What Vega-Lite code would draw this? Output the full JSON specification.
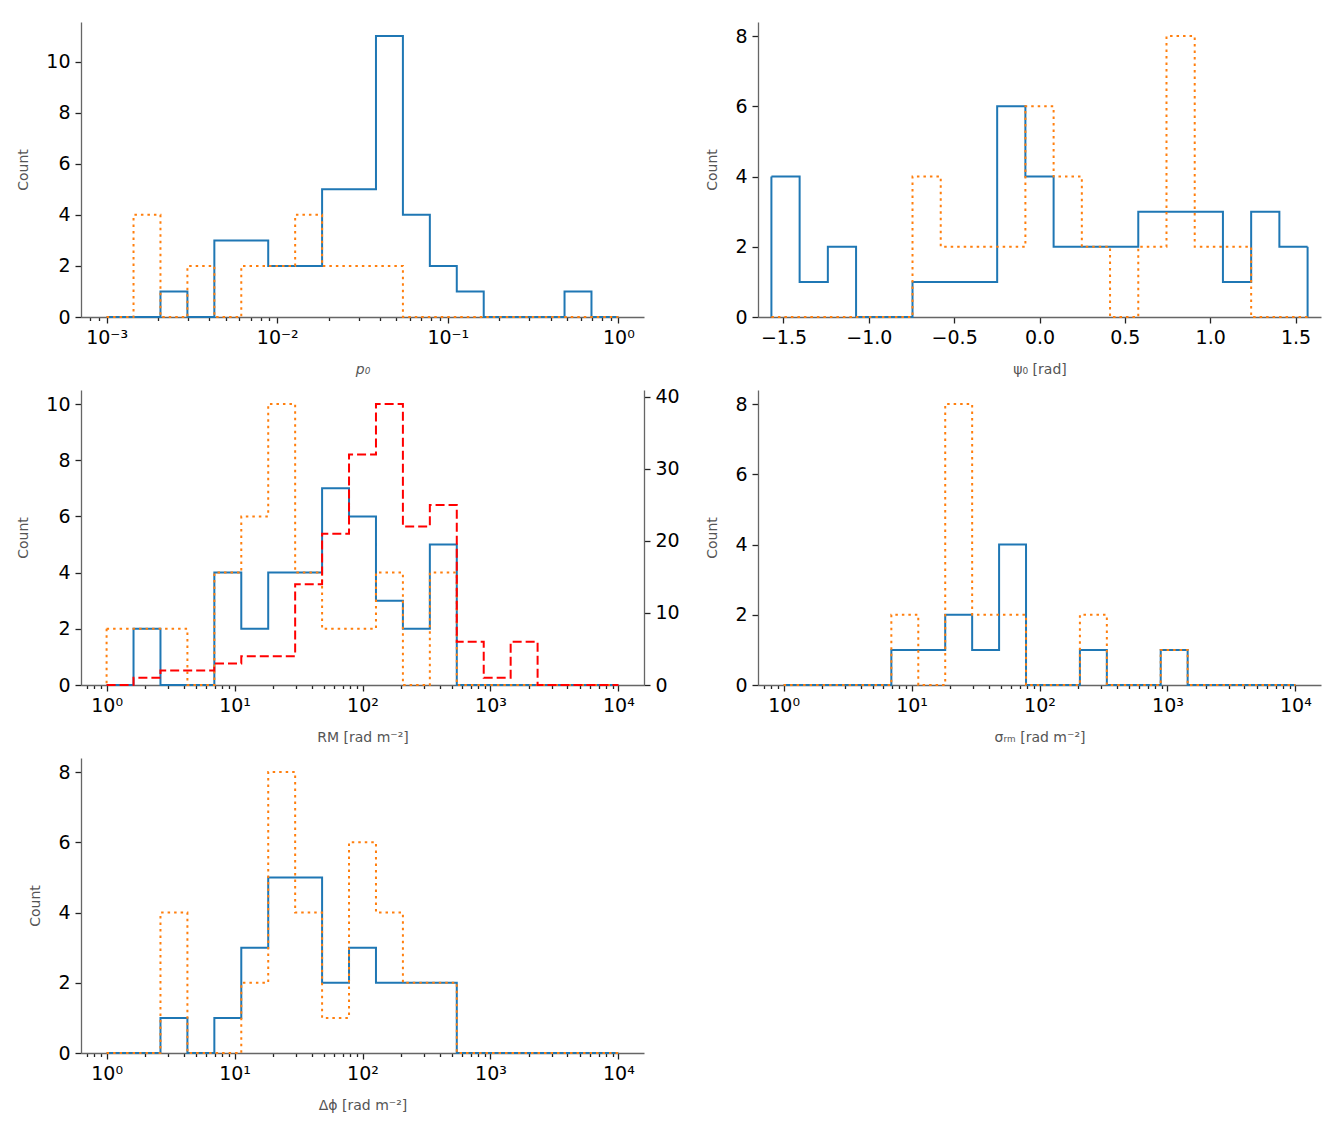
{
  "$schema": "https://vega.github.io/schema/vega-lite/v6.json",
  "padding": {"left": 16, "top": 22, "right": 5, "bottom": 5},
  "columns": 2,
  "spacing": {"row": 73, "column": 114},
  "bounds": "flush",
  "config": {
    "view": {"stroke": null},
    "font": "DejaVu Sans",
    "axis": {
      "grid": false,
      "domainColor": "#666666",
      "domainWidth": 1.3,
      "tickColor": "#222222",
      "tickWidth": 1.3,
      "tickSize": 6,
      "labelFont": "DejaVu Sans",
      "labelFontSize": 19,
      "labelColor": "#000000",
      "labelPadding": 5,
      "labelFlush": false,
      "labelOverlap": false,
      "titleFont": "DejaVu Sans",
      "titleFontSize": 14,
      "titleFontWeight": "normal",
      "titleColor": "#555555"
    },
    "axisX": {"titlePadding": 15},
    "axisY": {"titlePadding": 15}
  },
  "datasets": {
    "hist": [
      {"p":"p0","s":"b","i":0,"lo":0.001,"hi":0.0014384,"n":0},
      {"p":"p0","s":"b","i":1,"lo":0.0014384,"hi":0.0020691,"n":0},
      {"p":"p0","s":"b","i":2,"lo":0.0020691,"hi":0.0029764,"n":1},
      {"p":"p0","s":"b","i":3,"lo":0.0029764,"hi":0.0042814,"n":0},
      {"p":"p0","s":"b","i":4,"lo":0.0042814,"hi":0.0061585,"n":3},
      {"p":"p0","s":"b","i":5,"lo":0.0061585,"hi":0.0088587,"n":3},
      {"p":"p0","s":"b","i":6,"lo":0.0088587,"hi":0.012743,"n":2},
      {"p":"p0","s":"b","i":7,"lo":0.012743,"hi":0.01833,"n":2},
      {"p":"p0","s":"b","i":8,"lo":0.01833,"hi":0.026367,"n":5},
      {"p":"p0","s":"b","i":9,"lo":0.026367,"hi":0.037927,"n":5},
      {"p":"p0","s":"b","i":10,"lo":0.037927,"hi":0.054556,"n":11},
      {"p":"p0","s":"b","i":11,"lo":0.054556,"hi":0.078476,"n":4},
      {"p":"p0","s":"b","i":12,"lo":0.078476,"hi":0.11288,"n":2},
      {"p":"p0","s":"b","i":13,"lo":0.11288,"hi":0.16238,"n":1},
      {"p":"p0","s":"b","i":14,"lo":0.16238,"hi":0.23357,"n":0},
      {"p":"p0","s":"b","i":15,"lo":0.23357,"hi":0.33598,"n":0},
      {"p":"p0","s":"b","i":16,"lo":0.33598,"hi":0.48329,"n":0},
      {"p":"p0","s":"b","i":17,"lo":0.48329,"hi":0.69519,"n":1},
      {"p":"p0","s":"b","i":18,"lo":0.69519,"hi":1,"n":0},

      {"p":"p0","s":"o","i":0,"lo":0.001,"hi":0.0014384,"n":0},
      {"p":"p0","s":"o","i":1,"lo":0.0014384,"hi":0.0020691,"n":4},
      {"p":"p0","s":"o","i":2,"lo":0.0020691,"hi":0.0029764,"n":0},
      {"p":"p0","s":"o","i":3,"lo":0.0029764,"hi":0.0042814,"n":2},
      {"p":"p0","s":"o","i":4,"lo":0.0042814,"hi":0.0061585,"n":0},
      {"p":"p0","s":"o","i":5,"lo":0.0061585,"hi":0.0088587,"n":2},
      {"p":"p0","s":"o","i":6,"lo":0.0088587,"hi":0.012743,"n":2},
      {"p":"p0","s":"o","i":7,"lo":0.012743,"hi":0.01833,"n":4},
      {"p":"p0","s":"o","i":8,"lo":0.01833,"hi":0.026367,"n":2},
      {"p":"p0","s":"o","i":9,"lo":0.026367,"hi":0.037927,"n":2},
      {"p":"p0","s":"o","i":10,"lo":0.037927,"hi":0.054556,"n":2},
      {"p":"p0","s":"o","i":11,"lo":0.054556,"hi":0.078476,"n":0},
      {"p":"p0","s":"o","i":12,"lo":0.078476,"hi":0.11288,"n":0},
      {"p":"p0","s":"o","i":13,"lo":0.11288,"hi":0.16238,"n":0},
      {"p":"p0","s":"o","i":14,"lo":0.16238,"hi":0.23357,"n":0},
      {"p":"p0","s":"o","i":15,"lo":0.23357,"hi":0.33598,"n":0},
      {"p":"p0","s":"o","i":16,"lo":0.33598,"hi":0.48329,"n":0},
      {"p":"p0","s":"o","i":17,"lo":0.48329,"hi":0.69519,"n":0},
      {"p":"p0","s":"o","i":18,"lo":0.69519,"hi":1,"n":0},

      {"p":"psi","s":"b","i":0,"lo":-1.5708,"hi":-1.40545,"n":4},
      {"p":"psi","s":"b","i":1,"lo":-1.40545,"hi":-1.2401,"n":1},
      {"p":"psi","s":"b","i":2,"lo":-1.2401,"hi":-1.07475,"n":2},
      {"p":"psi","s":"b","i":3,"lo":-1.07475,"hi":-0.90941,"n":0},
      {"p":"psi","s":"b","i":4,"lo":-0.90941,"hi":-0.74406,"n":0},
      {"p":"psi","s":"b","i":5,"lo":-0.74406,"hi":-0.57871,"n":1},
      {"p":"psi","s":"b","i":6,"lo":-0.57871,"hi":-0.41337,"n":1},
      {"p":"psi","s":"b","i":7,"lo":-0.41337,"hi":-0.24802,"n":1},
      {"p":"psi","s":"b","i":8,"lo":-0.24802,"hi":-0.08267,"n":6},
      {"p":"psi","s":"b","i":9,"lo":-0.08267,"hi":0.08267,"n":4},
      {"p":"psi","s":"b","i":10,"lo":0.08267,"hi":0.24802,"n":2},
      {"p":"psi","s":"b","i":11,"lo":0.24802,"hi":0.41337,"n":2},
      {"p":"psi","s":"b","i":12,"lo":0.41337,"hi":0.57871,"n":2},
      {"p":"psi","s":"b","i":13,"lo":0.57871,"hi":0.74406,"n":3},
      {"p":"psi","s":"b","i":14,"lo":0.74406,"hi":0.90941,"n":3},
      {"p":"psi","s":"b","i":15,"lo":0.90941,"hi":1.07475,"n":3},
      {"p":"psi","s":"b","i":16,"lo":1.07475,"hi":1.2401,"n":1},
      {"p":"psi","s":"b","i":17,"lo":1.2401,"hi":1.40545,"n":3},
      {"p":"psi","s":"b","i":18,"lo":1.40545,"hi":1.5708,"n":2},

      {"p":"psi","s":"o","i":0,"lo":-1.5708,"hi":-1.40545,"n":0},
      {"p":"psi","s":"o","i":1,"lo":-1.40545,"hi":-1.2401,"n":0},
      {"p":"psi","s":"o","i":2,"lo":-1.2401,"hi":-1.07475,"n":0},
      {"p":"psi","s":"o","i":3,"lo":-1.07475,"hi":-0.90941,"n":0},
      {"p":"psi","s":"o","i":4,"lo":-0.90941,"hi":-0.74406,"n":0},
      {"p":"psi","s":"o","i":5,"lo":-0.74406,"hi":-0.57871,"n":4},
      {"p":"psi","s":"o","i":6,"lo":-0.57871,"hi":-0.41337,"n":2},
      {"p":"psi","s":"o","i":7,"lo":-0.41337,"hi":-0.24802,"n":2},
      {"p":"psi","s":"o","i":8,"lo":-0.24802,"hi":-0.08267,"n":2},
      {"p":"psi","s":"o","i":9,"lo":-0.08267,"hi":0.08267,"n":6},
      {"p":"psi","s":"o","i":10,"lo":0.08267,"hi":0.24802,"n":4},
      {"p":"psi","s":"o","i":11,"lo":0.24802,"hi":0.41337,"n":2},
      {"p":"psi","s":"o","i":12,"lo":0.41337,"hi":0.57871,"n":0},
      {"p":"psi","s":"o","i":13,"lo":0.57871,"hi":0.74406,"n":2},
      {"p":"psi","s":"o","i":14,"lo":0.74406,"hi":0.90941,"n":8},
      {"p":"psi","s":"o","i":15,"lo":0.90941,"hi":1.07475,"n":2},
      {"p":"psi","s":"o","i":16,"lo":1.07475,"hi":1.2401,"n":2},
      {"p":"psi","s":"o","i":17,"lo":1.2401,"hi":1.40545,"n":0},
      {"p":"psi","s":"o","i":18,"lo":1.40545,"hi":1.5708,"n":0},

      {"p":"rm","s":"b","i":0,"lo":1,"hi":1.6238,"n":0},
      {"p":"rm","s":"b","i":1,"lo":1.6238,"hi":2.6367,"n":2},
      {"p":"rm","s":"b","i":2,"lo":2.6367,"hi":4.2813,"n":0},
      {"p":"rm","s":"b","i":3,"lo":4.2813,"hi":6.952,"n":0},
      {"p":"rm","s":"b","i":4,"lo":6.952,"hi":11.288,"n":4},
      {"p":"rm","s":"b","i":5,"lo":11.288,"hi":18.33,"n":2},
      {"p":"rm","s":"b","i":6,"lo":18.33,"hi":29.764,"n":4},
      {"p":"rm","s":"b","i":7,"lo":29.764,"hi":48.329,"n":4},
      {"p":"rm","s":"b","i":8,"lo":48.329,"hi":78.476,"n":7},
      {"p":"rm","s":"b","i":9,"lo":78.476,"hi":127.43,"n":6},
      {"p":"rm","s":"b","i":10,"lo":127.43,"hi":206.91,"n":3},
      {"p":"rm","s":"b","i":11,"lo":206.91,"hi":335.98,"n":2},
      {"p":"rm","s":"b","i":12,"lo":335.98,"hi":545.56,"n":5},
      {"p":"rm","s":"b","i":13,"lo":545.56,"hi":885.87,"n":0},
      {"p":"rm","s":"b","i":14,"lo":885.87,"hi":1438.4,"n":0},
      {"p":"rm","s":"b","i":15,"lo":1438.4,"hi":2335.7,"n":0},
      {"p":"rm","s":"b","i":16,"lo":2335.7,"hi":3792.7,"n":0},
      {"p":"rm","s":"b","i":17,"lo":3792.7,"hi":6158.5,"n":0},
      {"p":"rm","s":"b","i":18,"lo":6158.5,"hi":10000,"n":0},

      {"p":"rm","s":"o","i":0,"lo":1,"hi":1.6238,"n":2},
      {"p":"rm","s":"o","i":1,"lo":1.6238,"hi":2.6367,"n":2},
      {"p":"rm","s":"o","i":2,"lo":2.6367,"hi":4.2813,"n":2},
      {"p":"rm","s":"o","i":3,"lo":4.2813,"hi":6.952,"n":0},
      {"p":"rm","s":"o","i":4,"lo":6.952,"hi":11.288,"n":4},
      {"p":"rm","s":"o","i":5,"lo":11.288,"hi":18.33,"n":6},
      {"p":"rm","s":"o","i":6,"lo":18.33,"hi":29.764,"n":10},
      {"p":"rm","s":"o","i":7,"lo":29.764,"hi":48.329,"n":4},
      {"p":"rm","s":"o","i":8,"lo":48.329,"hi":78.476,"n":2},
      {"p":"rm","s":"o","i":9,"lo":78.476,"hi":127.43,"n":2},
      {"p":"rm","s":"o","i":10,"lo":127.43,"hi":206.91,"n":4},
      {"p":"rm","s":"o","i":11,"lo":206.91,"hi":335.98,"n":0},
      {"p":"rm","s":"o","i":12,"lo":335.98,"hi":545.56,"n":4},
      {"p":"rm","s":"o","i":13,"lo":545.56,"hi":885.87,"n":0},
      {"p":"rm","s":"o","i":14,"lo":885.87,"hi":1438.4,"n":0},
      {"p":"rm","s":"o","i":15,"lo":1438.4,"hi":2335.7,"n":0},
      {"p":"rm","s":"o","i":16,"lo":2335.7,"hi":3792.7,"n":0},
      {"p":"rm","s":"o","i":17,"lo":3792.7,"hi":6158.5,"n":0},
      {"p":"rm","s":"o","i":18,"lo":6158.5,"hi":10000,"n":0},

      {"p":"rm","s":"r","i":0,"lo":1,"hi":1.6238,"n":0},
      {"p":"rm","s":"r","i":1,"lo":1.6238,"hi":2.6367,"n":1},
      {"p":"rm","s":"r","i":2,"lo":2.6367,"hi":4.2813,"n":2},
      {"p":"rm","s":"r","i":3,"lo":4.2813,"hi":6.952,"n":2},
      {"p":"rm","s":"r","i":4,"lo":6.952,"hi":11.288,"n":3},
      {"p":"rm","s":"r","i":5,"lo":11.288,"hi":18.33,"n":4},
      {"p":"rm","s":"r","i":6,"lo":18.33,"hi":29.764,"n":4},
      {"p":"rm","s":"r","i":7,"lo":29.764,"hi":48.329,"n":14},
      {"p":"rm","s":"r","i":8,"lo":48.329,"hi":78.476,"n":21},
      {"p":"rm","s":"r","i":9,"lo":78.476,"hi":127.43,"n":32},
      {"p":"rm","s":"r","i":10,"lo":127.43,"hi":206.91,"n":39},
      {"p":"rm","s":"r","i":11,"lo":206.91,"hi":335.98,"n":22},
      {"p":"rm","s":"r","i":12,"lo":335.98,"hi":545.56,"n":25},
      {"p":"rm","s":"r","i":13,"lo":545.56,"hi":885.87,"n":6},
      {"p":"rm","s":"r","i":14,"lo":885.87,"hi":1438.4,"n":1},
      {"p":"rm","s":"r","i":15,"lo":1438.4,"hi":2335.7,"n":6},
      {"p":"rm","s":"r","i":16,"lo":2335.7,"hi":3792.7,"n":0},
      {"p":"rm","s":"r","i":17,"lo":3792.7,"hi":6158.5,"n":0},
      {"p":"rm","s":"r","i":18,"lo":6158.5,"hi":10000,"n":0},

      {"p":"sig","s":"b","i":0,"lo":1,"hi":1.6238,"n":0},
      {"p":"sig","s":"b","i":1,"lo":1.6238,"hi":2.6367,"n":0},
      {"p":"sig","s":"b","i":2,"lo":2.6367,"hi":4.2813,"n":0},
      {"p":"sig","s":"b","i":3,"lo":4.2813,"hi":6.952,"n":0},
      {"p":"sig","s":"b","i":4,"lo":6.952,"hi":11.288,"n":1},
      {"p":"sig","s":"b","i":5,"lo":11.288,"hi":18.33,"n":1},
      {"p":"sig","s":"b","i":6,"lo":18.33,"hi":29.764,"n":2},
      {"p":"sig","s":"b","i":7,"lo":29.764,"hi":48.329,"n":1},
      {"p":"sig","s":"b","i":8,"lo":48.329,"hi":78.476,"n":4},
      {"p":"sig","s":"b","i":9,"lo":78.476,"hi":127.43,"n":0},
      {"p":"sig","s":"b","i":10,"lo":127.43,"hi":206.91,"n":0},
      {"p":"sig","s":"b","i":11,"lo":206.91,"hi":335.98,"n":1},
      {"p":"sig","s":"b","i":12,"lo":335.98,"hi":545.56,"n":0},
      {"p":"sig","s":"b","i":13,"lo":545.56,"hi":885.87,"n":0},
      {"p":"sig","s":"b","i":14,"lo":885.87,"hi":1438.4,"n":1},
      {"p":"sig","s":"b","i":15,"lo":1438.4,"hi":2335.7,"n":0},
      {"p":"sig","s":"b","i":16,"lo":2335.7,"hi":3792.7,"n":0},
      {"p":"sig","s":"b","i":17,"lo":3792.7,"hi":6158.5,"n":0},
      {"p":"sig","s":"b","i":18,"lo":6158.5,"hi":10000,"n":0},

      {"p":"sig","s":"o","i":0,"lo":1,"hi":1.6238,"n":0},
      {"p":"sig","s":"o","i":1,"lo":1.6238,"hi":2.6367,"n":0},
      {"p":"sig","s":"o","i":2,"lo":2.6367,"hi":4.2813,"n":0},
      {"p":"sig","s":"o","i":3,"lo":4.2813,"hi":6.952,"n":0},
      {"p":"sig","s":"o","i":4,"lo":6.952,"hi":11.288,"n":2},
      {"p":"sig","s":"o","i":5,"lo":11.288,"hi":18.33,"n":0},
      {"p":"sig","s":"o","i":6,"lo":18.33,"hi":29.764,"n":8},
      {"p":"sig","s":"o","i":7,"lo":29.764,"hi":48.329,"n":2},
      {"p":"sig","s":"o","i":8,"lo":48.329,"hi":78.476,"n":2},
      {"p":"sig","s":"o","i":9,"lo":78.476,"hi":127.43,"n":0},
      {"p":"sig","s":"o","i":10,"lo":127.43,"hi":206.91,"n":0},
      {"p":"sig","s":"o","i":11,"lo":206.91,"hi":335.98,"n":2},
      {"p":"sig","s":"o","i":12,"lo":335.98,"hi":545.56,"n":0},
      {"p":"sig","s":"o","i":13,"lo":545.56,"hi":885.87,"n":0},
      {"p":"sig","s":"o","i":14,"lo":885.87,"hi":1438.4,"n":1},
      {"p":"sig","s":"o","i":15,"lo":1438.4,"hi":2335.7,"n":0},
      {"p":"sig","s":"o","i":16,"lo":2335.7,"hi":3792.7,"n":0},
      {"p":"sig","s":"o","i":17,"lo":3792.7,"hi":6158.5,"n":0},
      {"p":"sig","s":"o","i":18,"lo":6158.5,"hi":10000,"n":0},

      {"p":"dphi","s":"b","i":0,"lo":1,"hi":1.6238,"n":0},
      {"p":"dphi","s":"b","i":1,"lo":1.6238,"hi":2.6367,"n":0},
      {"p":"dphi","s":"b","i":2,"lo":2.6367,"hi":4.2813,"n":1},
      {"p":"dphi","s":"b","i":3,"lo":4.2813,"hi":6.952,"n":0},
      {"p":"dphi","s":"b","i":4,"lo":6.952,"hi":11.288,"n":1},
      {"p":"dphi","s":"b","i":5,"lo":11.288,"hi":18.33,"n":3},
      {"p":"dphi","s":"b","i":6,"lo":18.33,"hi":29.764,"n":5},
      {"p":"dphi","s":"b","i":7,"lo":29.764,"hi":48.329,"n":5},
      {"p":"dphi","s":"b","i":8,"lo":48.329,"hi":78.476,"n":2},
      {"p":"dphi","s":"b","i":9,"lo":78.476,"hi":127.43,"n":3},
      {"p":"dphi","s":"b","i":10,"lo":127.43,"hi":206.91,"n":2},
      {"p":"dphi","s":"b","i":11,"lo":206.91,"hi":335.98,"n":2},
      {"p":"dphi","s":"b","i":12,"lo":335.98,"hi":545.56,"n":2},
      {"p":"dphi","s":"b","i":13,"lo":545.56,"hi":885.87,"n":0},
      {"p":"dphi","s":"b","i":14,"lo":885.87,"hi":1438.4,"n":0},
      {"p":"dphi","s":"b","i":15,"lo":1438.4,"hi":2335.7,"n":0},
      {"p":"dphi","s":"b","i":16,"lo":2335.7,"hi":3792.7,"n":0},
      {"p":"dphi","s":"b","i":17,"lo":3792.7,"hi":6158.5,"n":0},
      {"p":"dphi","s":"b","i":18,"lo":6158.5,"hi":10000,"n":0},

      {"p":"dphi","s":"o","i":0,"lo":1,"hi":1.6238,"n":0},
      {"p":"dphi","s":"o","i":1,"lo":1.6238,"hi":2.6367,"n":0},
      {"p":"dphi","s":"o","i":2,"lo":2.6367,"hi":4.2813,"n":4},
      {"p":"dphi","s":"o","i":3,"lo":4.2813,"hi":6.952,"n":0},
      {"p":"dphi","s":"o","i":4,"lo":6.952,"hi":11.288,"n":0},
      {"p":"dphi","s":"o","i":5,"lo":11.288,"hi":18.33,"n":2},
      {"p":"dphi","s":"o","i":6,"lo":18.33,"hi":29.764,"n":8},
      {"p":"dphi","s":"o","i":7,"lo":29.764,"hi":48.329,"n":4},
      {"p":"dphi","s":"o","i":8,"lo":48.329,"hi":78.476,"n":1},
      {"p":"dphi","s":"o","i":9,"lo":78.476,"hi":127.43,"n":6},
      {"p":"dphi","s":"o","i":10,"lo":127.43,"hi":206.91,"n":4},
      {"p":"dphi","s":"o","i":11,"lo":206.91,"hi":335.98,"n":2},
      {"p":"dphi","s":"o","i":12,"lo":335.98,"hi":545.56,"n":2},
      {"p":"dphi","s":"o","i":13,"lo":545.56,"hi":885.87,"n":0},
      {"p":"dphi","s":"o","i":14,"lo":885.87,"hi":1438.4,"n":0},
      {"p":"dphi","s":"o","i":15,"lo":1438.4,"hi":2335.7,"n":0},
      {"p":"dphi","s":"o","i":16,"lo":2335.7,"hi":3792.7,"n":0},
      {"p":"dphi","s":"o","i":17,"lo":3792.7,"hi":6158.5,"n":0},
      {"p":"dphi","s":"o","i":18,"lo":6158.5,"hi":10000,"n":0}
    ]
  },
  "concat": [
    {
      "width": 563, "height": 295,
      "data": {"name": "hist"},
      "transform": [{"filter": "datum.p == 'p0'"}, {"fold": ["lo", "hi"], "as": ["end", "x"]}],
      "encoding": {
        "x": {"field": "x", "type": "quantitative",
          "scale": {"type": "log", "domain": [0.00070795, 1.41254], "nice": false},
          "axis": {"title": "p₀", "titleFontStyle": "italic",
            "values": [0.0008, 0.0009, 0.001, 0.002, 0.003, 0.004, 0.005, 0.006, 0.007, 0.008, 0.009, 0.01, 0.02, 0.03, 0.04, 0.05, 0.06, 0.07, 0.08, 0.09, 0.1, 0.2, 0.3, 0.4, 0.5, 0.6, 0.7, 0.8, 0.9, 1],
            "labelExpr": "abs(log(datum.value)/LN10 - round(log(datum.value)/LN10)) < 0.001 ? '10' + ['⁻³','⁻²','⁻¹','⁰','¹','²','³','⁴'][round(log(datum.value)/LN10) + 3] : ''",
            "tickSize": {"condition": {"test": "abs(log(datum.value)/LN10 - round(log(datum.value)/LN10)) < 0.001", "value": 6}, "value": 3.5}}},
        "y": {"field": "n", "type": "quantitative",
          "scale": {"domain": [0, 11.55], "nice": false},
          "axis": {"title": "Count", "values": [0, 2, 4, 6, 8, 10], "format": "d"}}
      },
      "layer": [
        {"transform": [{"filter": "datum.s == 'b'"}],
          "mark": {"type": "line", "color": "#1f77b4", "strokeWidth": 2},
          "encoding": {"order": [{"field": "i", "type": "quantitative"}, {"field": "end", "type": "ordinal", "sort": "descending"}]}},
        {"transform": [{"filter": "datum.s == 'b' && ((datum.i == 0 && datum.end == 'lo') || (datum.i == 18 && datum.end == 'hi'))"}],
          "mark": {"type": "rule", "color": "#1f77b4", "strokeWidth": 2},
          "encoding": {"y2": {"datum": 0}}},
        {"transform": [{"filter": "datum.s == 'o'"}],
          "mark": {"type": "line", "color": "#ff7f0e", "strokeWidth": 2, "strokeDash": [2.5, 4]},
          "encoding": {"order": [{"field": "i", "type": "quantitative"}, {"field": "end", "type": "ordinal", "sort": "descending"}]}},
        {"transform": [{"filter": "datum.s == 'o' && ((datum.i == 0 && datum.end == 'lo') || (datum.i == 18 && datum.end == 'hi'))"}],
          "mark": {"type": "rule", "color": "#ff7f0e", "strokeWidth": 2, "strokeDash": [2.5, 4]},
          "encoding": {"y2": {"datum": 0}}}
      ]
    },
    {
      "width": 563, "height": 295,
      "data": {"name": "hist"},
      "transform": [{"filter": "datum.p == 'psi'"}, {"fold": ["lo", "hi"], "as": ["end", "x"]}],
      "encoding": {
        "x": {"field": "x", "type": "quantitative",
          "scale": {"domain": [-1.64934, 1.64934], "nice": false, "zero": false},
          "axis": {"title": "ψ₀ [rad]", "values": [-1.5, -1, -0.5, 0, 0.5, 1, 1.5],
            "labelExpr": "replace(format(datum.value, '.1f'), '-', '−')"}},
        "y": {"field": "n", "type": "quantitative",
          "scale": {"domain": [0, 8.4], "nice": false},
          "axis": {"title": "Count", "values": [0, 2, 4, 6, 8], "format": "d"}}
      },
      "layer": [
        {"transform": [{"filter": "datum.s == 'b'"}],
          "mark": {"type": "line", "color": "#1f77b4", "strokeWidth": 2},
          "encoding": {"order": [{"field": "i", "type": "quantitative"}, {"field": "end", "type": "ordinal", "sort": "descending"}]}},
        {"transform": [{"filter": "datum.s == 'b' && ((datum.i == 0 && datum.end == 'lo') || (datum.i == 18 && datum.end == 'hi'))"}],
          "mark": {"type": "rule", "color": "#1f77b4", "strokeWidth": 2},
          "encoding": {"y2": {"datum": 0}}},
        {"transform": [{"filter": "datum.s == 'o'"}],
          "mark": {"type": "line", "color": "#ff7f0e", "strokeWidth": 2, "strokeDash": [2.5, 4]},
          "encoding": {"order": [{"field": "i", "type": "quantitative"}, {"field": "end", "type": "ordinal", "sort": "descending"}]}},
        {"transform": [{"filter": "datum.s == 'o' && ((datum.i == 0 && datum.end == 'lo') || (datum.i == 18 && datum.end == 'hi'))"}],
          "mark": {"type": "rule", "color": "#ff7f0e", "strokeWidth": 2, "strokeDash": [2.5, 4]},
          "encoding": {"y2": {"datum": 0}}}
      ]
    },
    {
      "width": 563, "height": 295,
      "data": {"name": "hist"},
      "transform": [{"filter": "datum.p == 'rm'"}, {"fold": ["lo", "hi"], "as": ["end", "x"]}],
      "encoding": {
        "x": {"field": "x", "type": "quantitative",
          "scale": {"type": "log", "domain": [0.630957, 15848.93], "nice": false},
          "axis": {"title": "RM [rad m⁻²]",
            "values": [0.7, 0.8, 0.9, 1, 2, 3, 4, 5, 6, 7, 8, 9, 10, 20, 30, 40, 50, 60, 70, 80, 90, 100, 200, 300, 400, 500, 600, 700, 800, 900, 1000, 2000, 3000, 4000, 5000, 6000, 7000, 8000, 9000, 10000],
            "labelExpr": "abs(log(datum.value)/LN10 - round(log(datum.value)/LN10)) < 0.001 ? '10' + ['⁻³','⁻²','⁻¹','⁰','¹','²','³','⁴'][round(log(datum.value)/LN10) + 3] : ''",
            "tickSize": {"condition": {"test": "abs(log(datum.value)/LN10 - round(log(datum.value)/LN10)) < 0.001", "value": 6}, "value": 3.5}}}
      },
      "layer": [
        {
          "encoding": {
            "y": {"field": "n", "type": "quantitative",
              "scale": {"domain": [0, 10.5], "nice": false},
              "axis": {"title": "Count", "values": [0, 2, 4, 6, 8, 10], "format": "d"}}
          },
          "layer": [
            {"transform": [{"filter": "datum.s == 'b'"}],
              "mark": {"type": "line", "color": "#1f77b4", "strokeWidth": 2},
              "encoding": {"order": [{"field": "i", "type": "quantitative"}, {"field": "end", "type": "ordinal", "sort": "descending"}]}},
            {"transform": [{"filter": "datum.s == 'b' && ((datum.i == 0 && datum.end == 'lo') || (datum.i == 18 && datum.end == 'hi'))"}],
              "mark": {"type": "rule", "color": "#1f77b4", "strokeWidth": 2},
              "encoding": {"y2": {"datum": 0}}},
            {"transform": [{"filter": "datum.s == 'o'"}],
              "mark": {"type": "line", "color": "#ff7f0e", "strokeWidth": 2, "strokeDash": [2.5, 4]},
              "encoding": {"order": [{"field": "i", "type": "quantitative"}, {"field": "end", "type": "ordinal", "sort": "descending"}]}},
            {"transform": [{"filter": "datum.s == 'o' && ((datum.i == 0 && datum.end == 'lo') || (datum.i == 18 && datum.end == 'hi'))"}],
              "mark": {"type": "rule", "color": "#ff7f0e", "strokeWidth": 2, "strokeDash": [2.5, 4]},
              "encoding": {"y2": {"datum": 0}}}
          ]
        },
        {
          "encoding": {
            "y": {"field": "n", "type": "quantitative",
              "scale": {"domain": [0, 40.95], "nice": false},
              "axis": {"orient": "right", "title": null, "values": [0, 10, 20, 30, 40], "format": "d"}}
          },
          "layer": [
            {"transform": [{"filter": "datum.s == 'r'"}],
              "mark": {"type": "line", "color": "#ff0000", "strokeWidth": 2, "strokeDash": [9, 4]},
              "encoding": {"order": [{"field": "i", "type": "quantitative"}, {"field": "end", "type": "ordinal", "sort": "descending"}]}},
            {"transform": [{"filter": "datum.s == 'r' && ((datum.i == 0 && datum.end == 'lo') || (datum.i == 18 && datum.end == 'hi'))"}],
              "mark": {"type": "rule", "color": "#ff0000", "strokeWidth": 2, "strokeDash": [9, 4]},
              "encoding": {"y2": {"datum": 0}}}
          ]
        }
      ],
      "resolve": {"scale": {"y": "independent"}}
    },
    {
      "width": 563, "height": 295,
      "data": {"name": "hist"},
      "transform": [{"filter": "datum.p == 'sig'"}, {"fold": ["lo", "hi"], "as": ["end", "x"]}],
      "encoding": {
        "x": {"field": "x", "type": "quantitative",
          "scale": {"type": "log", "domain": [0.630957, 15848.93], "nice": false},
          "axis": {"title": "σᵣₘ [rad m⁻²]",
            "values": [0.7, 0.8, 0.9, 1, 2, 3, 4, 5, 6, 7, 8, 9, 10, 20, 30, 40, 50, 60, 70, 80, 90, 100, 200, 300, 400, 500, 600, 700, 800, 900, 1000, 2000, 3000, 4000, 5000, 6000, 7000, 8000, 9000, 10000],
            "labelExpr": "abs(log(datum.value)/LN10 - round(log(datum.value)/LN10)) < 0.001 ? '10' + ['⁻³','⁻²','⁻¹','⁰','¹','²','³','⁴'][round(log(datum.value)/LN10) + 3] : ''",
            "tickSize": {"condition": {"test": "abs(log(datum.value)/LN10 - round(log(datum.value)/LN10)) < 0.001", "value": 6}, "value": 3.5}}},
        "y": {"field": "n", "type": "quantitative",
          "scale": {"domain": [0, 8.4], "nice": false},
          "axis": {"title": "Count", "values": [0, 2, 4, 6, 8], "format": "d"}}
      },
      "layer": [
        {"transform": [{"filter": "datum.s == 'b'"}],
          "mark": {"type": "line", "color": "#1f77b4", "strokeWidth": 2},
          "encoding": {"order": [{"field": "i", "type": "quantitative"}, {"field": "end", "type": "ordinal", "sort": "descending"}]}},
        {"transform": [{"filter": "datum.s == 'b' && ((datum.i == 0 && datum.end == 'lo') || (datum.i == 18 && datum.end == 'hi'))"}],
          "mark": {"type": "rule", "color": "#1f77b4", "strokeWidth": 2},
          "encoding": {"y2": {"datum": 0}}},
        {"transform": [{"filter": "datum.s == 'o'"}],
          "mark": {"type": "line", "color": "#ff7f0e", "strokeWidth": 2, "strokeDash": [2.5, 4]},
          "encoding": {"order": [{"field": "i", "type": "quantitative"}, {"field": "end", "type": "ordinal", "sort": "descending"}]}},
        {"transform": [{"filter": "datum.s == 'o' && ((datum.i == 0 && datum.end == 'lo') || (datum.i == 18 && datum.end == 'hi'))"}],
          "mark": {"type": "rule", "color": "#ff7f0e", "strokeWidth": 2, "strokeDash": [2.5, 4]},
          "encoding": {"y2": {"datum": 0}}}
      ]
    },
    {
      "width": 563, "height": 295,
      "data": {"name": "hist"},
      "transform": [{"filter": "datum.p == 'dphi'"}, {"fold": ["lo", "hi"], "as": ["end", "x"]}],
      "encoding": {
        "x": {"field": "x", "type": "quantitative",
          "scale": {"type": "log", "domain": [0.630957, 15848.93], "nice": false},
          "axis": {"title": "Δϕ [rad m⁻²]",
            "values": [0.7, 0.8, 0.9, 1, 2, 3, 4, 5, 6, 7, 8, 9, 10, 20, 30, 40, 50, 60, 70, 80, 90, 100, 200, 300, 400, 500, 600, 700, 800, 900, 1000, 2000, 3000, 4000, 5000, 6000, 7000, 8000, 9000, 10000],
            "labelExpr": "abs(log(datum.value)/LN10 - round(log(datum.value)/LN10)) < 0.001 ? '10' + ['⁻³','⁻²','⁻¹','⁰','¹','²','³','⁴'][round(log(datum.value)/LN10) + 3] : ''",
            "tickSize": {"condition": {"test": "abs(log(datum.value)/LN10 - round(log(datum.value)/LN10)) < 0.001", "value": 6}, "value": 3.5}}},
        "y": {"field": "n", "type": "quantitative",
          "scale": {"domain": [0, 8.4], "nice": false},
          "axis": {"title": "Count", "values": [0, 2, 4, 6, 8], "format": "d"}}
      },
      "layer": [
        {"transform": [{"filter": "datum.s == 'b'"}],
          "mark": {"type": "line", "color": "#1f77b4", "strokeWidth": 2},
          "encoding": {"order": [{"field": "i", "type": "quantitative"}, {"field": "end", "type": "ordinal", "sort": "descending"}]}},
        {"transform": [{"filter": "datum.s == 'b' && ((datum.i == 0 && datum.end == 'lo') || (datum.i == 18 && datum.end == 'hi'))"}],
          "mark": {"type": "rule", "color": "#1f77b4", "strokeWidth": 2},
          "encoding": {"y2": {"datum": 0}}},
        {"transform": [{"filter": "datum.s == 'o'"}],
          "mark": {"type": "line", "color": "#ff7f0e", "strokeWidth": 2, "strokeDash": [2.5, 4]},
          "encoding": {"order": [{"field": "i", "type": "quantitative"}, {"field": "end", "type": "ordinal", "sort": "descending"}]}},
        {"transform": [{"filter": "datum.s == 'o' && ((datum.i == 0 && datum.end == 'lo') || (datum.i == 18 && datum.end == 'hi'))"}],
          "mark": {"type": "rule", "color": "#ff7f0e", "strokeWidth": 2, "strokeDash": [2.5, 4]},
          "encoding": {"y2": {"datum": 0}}}
      ]
    }
  ]
}
